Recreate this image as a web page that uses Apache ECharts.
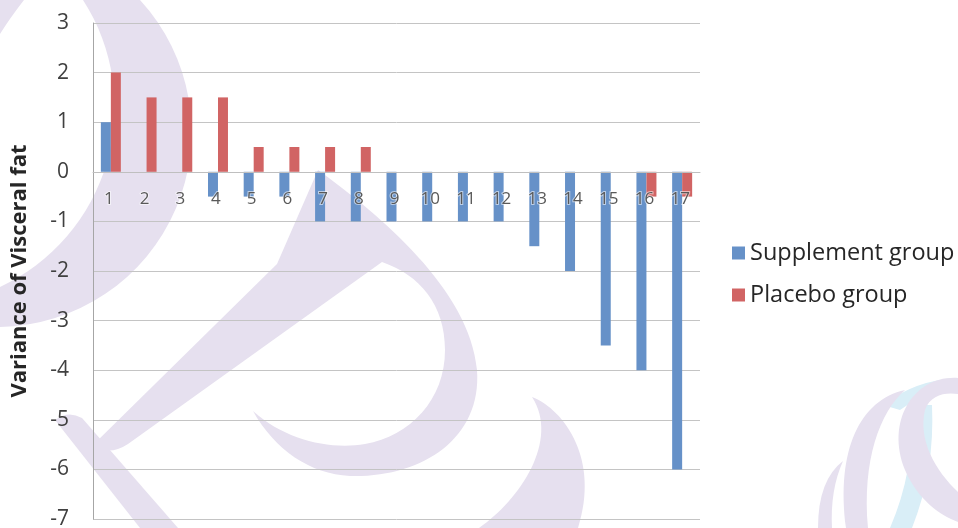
<!DOCTYPE html>
<html>
<head>
<meta charset="utf-8">
<script src="https://cdn.jsdelivr.net/npm/echarts@6/dist/echarts.min.js"></script>
<style>
  html, body { margin: 0; padding: 0; background: #ffffff; }
  #chart { width: 958px; height: 528px; }
</style>
</head>
<body>
<div id="chart"></div>
<script>
// Subjects on the x axis
const subjects = ['1', '2', '3', '4', '5', '6', '7', '8', '9', '10', '11', '12', '13', '14', '15', '16', '17'];

// Change in visceral fat per subject
const supplementGroup = [1, 0, 0, -0.5, -0.5, -0.5, -1, -1, -1, -1, -1, -1, -1.5, -2, -3.5, -4, -6];
const placeboGroup = [2, 1.5, 1.5, 1.5, 0.5, 0.5, 0.5, 0.5, 0, 0, 0, 0, 0, 0, 0, -0.5, -0.5];

// Value axis range
const yMin = -7;
const yMax = 3;
const yStep = 1;

const FONT = '"Open Sans", "Liberation Sans", sans-serif';
const LAVENDER = '#e6e0ef';
const SKY = '#d9eef7';

// Faint background logo, drawn as an SVG backdrop image
const logoShapes = [
  { d: 'M 140 0 A 195 195 0 0 1 0 327 L 0 287 A 198 198 0 0 0 83 0 Z', fill: LAVENDER },
  { d: 'M 0 0 L 24 0 Q 10 18 0 34 Z', fill: LAVENDER },
  { d: 'M 92 446 L 277 264 L 318 170 C 380 215 470 290 477 370 C 482 440 420 478 350 476 C 310 474 275 450 253 411 C 285 440 330 450 365 444 C 410 436 445 400 445 350 C 445 305 420 275 382 262 L 128 444 Q 110 456 92 446 Z', fill: LAVENDER },
  { d: 'M 55 420 Q 68 410 82 418 L 178 528 L 140 528 Z', fill: LAVENDER },
  { d: 'M 532 397 C 565 410 600 460 578 528 L 479 528 C 520 500 560 440 532 397 Z', fill: LAVENDER },
  { d: 'M 883 405 Q 915 380 958 378 L 958 392 Q 925 392 900 410 Z', fill: SKY },
  { d: 'M 912 405 L 932 405 Q 935 470 912 528 L 890 528 Q 915 470 912 405 Z', fill: SKY },
  { d: 'M 818 528 Q 818 480 843 461 Q 830 490 832 528 Z', fill: LAVENDER },
  { d: 'M 846 528 C 836 450 860 400 905 390 C 880 412 862 460 868 528 Z', fill: LAVENDER },
  { d: 'M 958 378 C 915 375 885 420 905 470 C 918 500 940 515 958 522 L 958 492 C 935 470 918 440 925 410 C 930 395 945 392 958 394 Z', fill: LAVENDER }
];

const logoSvg = '<svg xmlns="http://www.w3.org/2000/svg" width="958" height="528" viewBox="0 0 958 528">' +
  logoShapes.map(s => '<path d="' + s.d + '" fill="' + s.fill + '"/>').join('') +
  '</svg>';
const logoUrl = 'data:image/svg+xml;charset=utf-8,' + encodeURIComponent(logoSvg);

const chart = echarts.init(document.getElementById('chart'), null, { renderer: 'canvas' });

chart.setOption({
  backgroundColor: '#ffffff',
  animation: false,
  graphic: [{
    type: 'image',
    silent: true,
    z: -10,
    left: 0,
    top: 0,
    style: { image: logoUrl, width: 958, height: 528 }
  }],
  grid: { left: 93, right: 258, top: 23, bottom: 9, containLabel: false, outerBoundsMode: 'none' },
  legend: {
    orient: 'vertical',
    left: 727,
    top: 236,
    itemWidth: 13,
    itemHeight: 13,
    itemGap: 18,
    icon: 'rect',
    textStyle: { fontFamily: FONT, fontSize: 23.5, color: '#262626', padding: [0, 0, 0, 0] },
    data: ['Supplement group', 'Placebo group']
  },
  xAxis: {
    type: 'category',
    data: subjects,
    z: 5,
    position: 'bottom',
    offset: 0,
    axisLine: { onZero: false, lineStyle: { color: '#bfbfbf', width: 1 } },
    axisTick: { show: false },
    axisLabel: {
      margin: 19,
      fontFamily: FONT,
      fontSize: 17,
      color: '#595959',
      padding: [0, 4, 0, 0],
      textBorderColor: 'rgba(255,255,255,0.55)',
      textBorderWidth: 2
    },
    splitLine: { show: false }
  },
  yAxis: {
    type: 'value',
    min: yMin,
    max: yMax,
    interval: yStep,
    name: 'Variance of Visceral fat',
    nameLocation: 'middle',
    nameGap: 62,
    nameTextStyle: { fontFamily: FONT, fontSize: 22, fontWeight: 'bold', color: '#262626' },
    axisLine: { show: true, lineStyle: { color: '#a6a6a6', width: 1 } },
    axisTick: { show: false },
    axisLabel: { margin: 24, fontFamily: FONT, fontSize: 21, color: '#404040' },
    splitLine: { show: true, lineStyle: { color: '#c4c4c4', width: 1 } }
  },
  series: [
    {
      name: 'Supplement group',
      type: 'bar',
      data: supplementGroup,
      barWidth: 10,
      barGap: '0%',
      itemStyle: { color: '#6691c8' }
    },
    {
      name: 'Placebo group',
      type: 'bar',
      data: placeboGroup,
      barWidth: 10,
      barGap: '0%',
      itemStyle: { color: '#d16464' }
    }
  ]
});

// Lift the category axis onto the zero line of the value axis
const zeroY = chart.convertToPixel({ yAxisIndex: 0 }, 0);
const bottomY = chart.convertToPixel({ yAxisIndex: 0 }, yMin);
chart.setOption({ xAxis: { offset: -(bottomY - zeroY) } });
</script>
</body>
</html>
